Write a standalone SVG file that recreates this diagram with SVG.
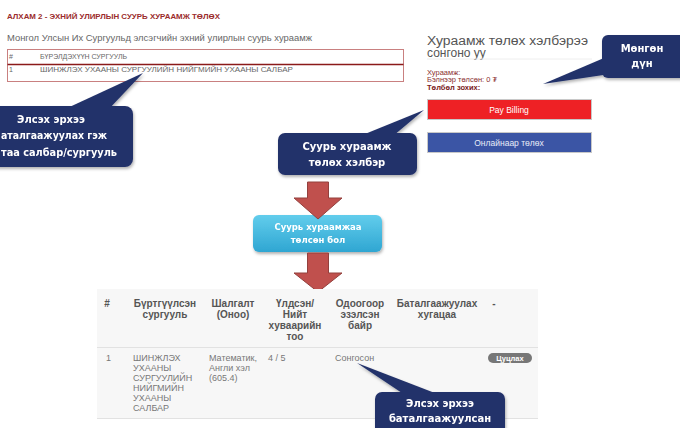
<svg xmlns="http://www.w3.org/2000/svg" width="680" height="428" viewBox="0 0 680 428">
<defs>
<style>
.ttl{font-family:"Liberation Sans",Arial,sans-serif;font-size:7.5px;font-weight:bold;fill:#9b2c2c}
.sub{font-family:"Liberation Sans",Arial,sans-serif;font-size:9px;fill:#666}
.tb{font-family:"Liberation Sans",Arial,sans-serif;font-size:7px;fill:#666}
.head{font-family:"Liberation Sans",Arial,sans-serif;font-size:12px;fill:#555}
.fee{font-family:"Liberation Sans",Arial,sans-serif;font-size:7.5px;fill:#8b3030}
.btn{font-family:"Liberation Sans",Arial,sans-serif;font-size:8.5px;fill:#fff;text-anchor:middle}
.co{fill:#24326a}
.cot{font-family:"DejaVu Sans",Verdana,sans-serif;font-size:10px;font-weight:bold;fill:#fff;text-anchor:middle}
.cyt{font-family:"DejaVu Sans",Verdana,sans-serif;font-size:8.5px;font-weight:bold;fill:#fff;text-anchor:middle}
.th{font-family:"Liberation Sans",Arial,sans-serif;font-size:10px;font-weight:bold;fill:#555;text-anchor:middle}
.td{font-family:"Liberation Sans",Arial,sans-serif;font-size:9px;fill:#777}
.arrow{fill:#c0504d;stroke:#93403d;stroke-width:1}
</style>
<linearGradient id="cyan" x1="0" y1="0" x2="0" y2="1">
<stop offset="0" stop-color="#62cdec"/>
<stop offset="1" stop-color="#2fa6d2"/>
</linearGradient>
<filter id="sh" x="-10%" y="-10%" width="130%" height="140%">
<feDropShadow dx="1" dy="2" stdDeviation="1.5" flood-color="#000" flood-opacity="0.3"/>
</filter>
</defs>
<rect width="680" height="428" fill="#fff"/>

<g id="page-header">
<text class="ttl" x="7" y="19" textLength="213" lengthAdjust="spacingAndGlyphs">АЛХАМ 2 - ЭХНИЙ УЛИРЛЫН СУУРЬ ХУРААМЖ ТӨЛӨХ</text>
<text class="sub" x="7" y="41" textLength="305" lengthAdjust="spacingAndGlyphs">Монгол Улсын Их Сургуульд элсэгчийн эхний улирлын суурь хураамж</text>
</g>

<g id="school-table">
<rect x="7.5" y="49.5" width="396" height="32" fill="none" stroke="#c98080" stroke-width="1"/>
<line x1="7.5" y1="64.5" x2="403.5" y2="64.5" stroke="#8b1a1a" stroke-width="1.6"/>
<text class="tb" x="9" y="58.5">#</text>
<text class="tb" x="40" y="58.5">БҮРЭЛДЭХҮҮН СУРГУУЛЬ</text>
<text class="tb" x="9" y="72">1</text>
<text class="tb" x="40" y="72" textLength="253" lengthAdjust="spacingAndGlyphs">ШИНЖЛЭХ УХААНЫ СУРГУУЛИЙН НИЙГМИЙН УХААНЫ САЛБАР</text>
</g>

<g id="payment-panel">
<text class="head" x="427" y="45" textLength="161" lengthAdjust="spacingAndGlyphs">Хураамж төлөх хэлбэрээ</text>
<text class="head" x="427" y="57">сонгоно уу</text>
<line x1="427" y1="59" x2="592" y2="59" stroke="#eeeeee" stroke-width="1"/>
<text class="fee" x="427" y="74.5">Хураамж:</text>
<text class="fee" x="427" y="82">Бэлнээр төлсөн: 0 ₮</text>
<text class="fee" x="427" y="89.5" font-weight="bold" style="fill:#7a2020">Төлбөл зохих:</text>
</g>

<g id="pay-billing">
<rect x="427.5" y="99.5" width="164" height="20" fill="#ee2125" stroke="#c8c8c8"/>
<text class="btn" x="509" y="112.5">Pay Billing</text>
</g>

<g id="pay-online">
<rect x="427.5" y="132.5" width="164" height="20" fill="#3b55a5" stroke="#c8c8c8"/>
<text class="btn" x="509" y="145.5" style="fill:#e8ecf8">Онлайнаар төлөх</text>
</g>

<g id="callout-school" filter="url(#sh)">
<polygon class="co" points="63,110 143,73 108,110"/>
<rect class="co" x="-10" y="106" width="143" height="61" rx="8"/>
<text class="cot" x="51" y="123">Элсэх эрхээ</text>
<text class="cot" x="1" y="139" style="text-anchor:start" textLength="106" lengthAdjust="spacingAndGlyphs">аталгаажуулах гэж</text>
<text class="cot" x="1" y="156" style="text-anchor:start" textLength="116" lengthAdjust="spacingAndGlyphs">таа салбар/сургууль</text>
</g>

<g id="callout-amount" filter="url(#sh)">
<polygon class="co" points="604,58 543,84 610,74"/>
<rect class="co" x="602" y="35" width="84" height="43" rx="6"/>
<text class="cot" x="642" y="52">Мөнгөн</text>
<text class="cot" x="642" y="67">дүн</text>
</g>

<g id="callout-method" filter="url(#sh)">
<polygon class="co" points="360,136 424,110 393,136"/>
<rect class="co" x="278" y="133" width="139" height="42" rx="7"/>
<text class="cot" x="347" y="150">Суурь хураамж</text>
<text class="cot" x="347" y="166">төлөх хэлбэр</text>
</g>

<g id="condition" filter="url(#sh)">
<rect x="253" y="215" width="129" height="37" rx="6" fill="url(#cyan)"/>
<text class="cyt" x="318" y="230">Суурь хураамжаа</text>
<text class="cyt" x="318" y="243">төлсөн бол</text>
</g>

<g id="connectors">
<polygon class="arrow" points="307.5,182 328.5,182 328.5,198 342,198 318,219 294,198 307.5,198"/>
<polygon class="arrow" points="307.5,253 328.5,253 328.5,273 342,273 318,292 294,273 307.5,273"/>
</g>

<g id="result-table">
<rect x="97" y="289" width="441" height="129" fill="#f7f7f7"/>
<line x1="97" y1="347.5" x2="538" y2="347.5" stroke="#e2e2e2"/>
<line x1="97" y1="418.5" x2="538" y2="418.5" stroke="#e2e2e2"/>
<text class="th" x="107" y="306.5">#</text>
<text class="th" x="165" y="306.5">Бүртгүүлсэн</text>
<text class="th" x="165" y="317.5">сургууль</text>
<text class="th" x="233" y="306.5">Шалгалт</text>
<text class="th" x="233" y="317.5">(Оноо)</text>
<text class="th" x="295" y="306.5">Үлдсэн/</text>
<text class="th" x="295" y="317.5">Нийт</text>
<text class="th" x="295" y="328.5">хуваарийн</text>
<text class="th" x="295" y="340">тоо</text>
<text class="th" x="360" y="306.5">Одоогоор</text>
<text class="th" x="360" y="317.5">эзэлсэн</text>
<text class="th" x="360" y="328.5">байр</text>
<text class="th" x="437" y="306.5">Баталгаажуулах</text>
<text class="th" x="437" y="317.5">хугацаа</text>
<text class="th" x="494" y="306.5">-</text>
<text class="td" x="106" y="361">1</text>
<text class="td" x="133" y="361">ШИНЖЛЭХ</text>
<text class="td" x="133" y="371">УХААНЫ</text>
<text class="td" x="133" y="381">СУРГУУЛИЙН</text>
<text class="td" x="133" y="391">НИЙГМИЙН</text>
<text class="td" x="133" y="401">УХААНЫ</text>
<text class="td" x="133" y="411">САЛБАР</text>
<text class="td" x="209" y="361">Математик,</text>
<text class="td" x="209" y="371">Англи хэл</text>
<text class="td" x="209" y="381">(605.4)</text>
<text class="td" x="268" y="361">4 / 5</text>
<text class="td" x="335" y="361">Сонгосон</text>
<rect x="488" y="353" width="44" height="10" rx="5" fill="#777"/>
<text x="510" y="361" font-family="Liberation Sans, Arial, sans-serif" font-size="7.5" font-weight="bold" fill="#fff" text-anchor="middle">Цуцлах</text>
</g>

<g id="callout-confirmed" filter="url(#sh)">
<polygon class="co" points="405,395 357,363 440,395"/>
<rect class="co" x="375" y="392" width="130" height="50" rx="7"/>
<text class="cot" x="440" y="407">Элсэх эрхээ</text>
<text class="cot" x="440" y="422">баталгаажуулсан</text>
</g>
</svg>
